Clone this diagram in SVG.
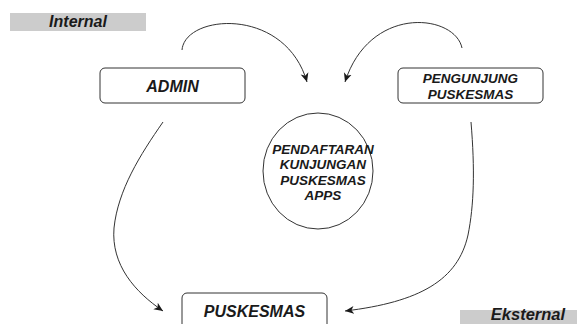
<svg xmlns="http://www.w3.org/2000/svg" width="577" height="324" viewBox="0 0 577 324">
<style>
.box{fill:#fff;stroke:#333;stroke-width:1}
.lbl{font-family:"Liberation Sans",Arial,sans-serif;font-weight:bold;font-style:italic;fill:#1a1a1a;text-anchor:middle}
.band{fill:#cccccc}
.edge{fill:none;stroke:#333;stroke-width:1}
</style>
<defs>
<marker id="arr" markerUnits="userSpaceOnUse" markerWidth="10" markerHeight="10" refX="9" refY="5" orient="auto" viewBox="0 0 10 10">
<path d="M0,1 L9,5 L0,9 L2.5,5 z" fill="#1a1a1a"/>
</marker>
</defs>
<rect width="577" height="324" fill="#fff"/>
<g id="internal">
<rect class="band" x="10" y="13" width="136" height="18"/>
<text class="lbl" x="78" y="27" font-size="16">Internal</text>
</g>
<g id="eksternal">
<rect class="band" x="460" y="310" width="136" height="18"/>
<text class="lbl" x="528" y="320" font-size="16.5">Eksternal</text>
</g>
<g id="connectors">
<path class="edge" d="M182,50 C185,14 285,6 307,82" marker-end="url(#arr)"/>
<path class="edge" d="M462,48 C455,14 370,4 345,82" marker-end="url(#arr)"/>
<path class="edge" d="M163,122 C140,155 118,190 114,228 C111,265 135,292 163,311" marker-end="url(#arr)"/>
<path class="edge" d="M471,122 C475,170 474,205 468,235 C458,280 420,302 345,311" marker-end="url(#arr)"/>
</g>
<g id="admin">
<rect class="box" x="100" y="68" width="145" height="35" rx="5"/>
<text class="lbl" x="172.5" y="91.5" font-size="16">ADMIN</text>
</g>
<g id="pengunjung">
<rect class="box" x="398" y="68" width="145" height="35" rx="5"/>
<text class="lbl" x="470.5" y="83" font-size="13.5">PENGUNJUNG</text>
<text class="lbl" x="470.5" y="99" font-size="13.5">PUSKESMAS</text>
</g>
<g id="app">
<ellipse class="box" cx="318" cy="171" rx="55" ry="58"/>
<text class="lbl" x="323" y="153.5" font-size="13.5">PENDAFTARAN</text>
<text class="lbl" x="323" y="169" font-size="13.5">KUNJUNGAN</text>
<text class="lbl" x="323" y="184.5" font-size="13.5">PUSKESMAS</text>
<text class="lbl" x="323" y="200" font-size="13.5">APPS</text>
</g>
<g id="puskesmas">
<rect class="box" x="182" y="293" width="145" height="40" rx="5"/>
<text class="lbl" x="254.5" y="316.5" font-size="16">PUSKESMAS</text>
</g>
</svg>
